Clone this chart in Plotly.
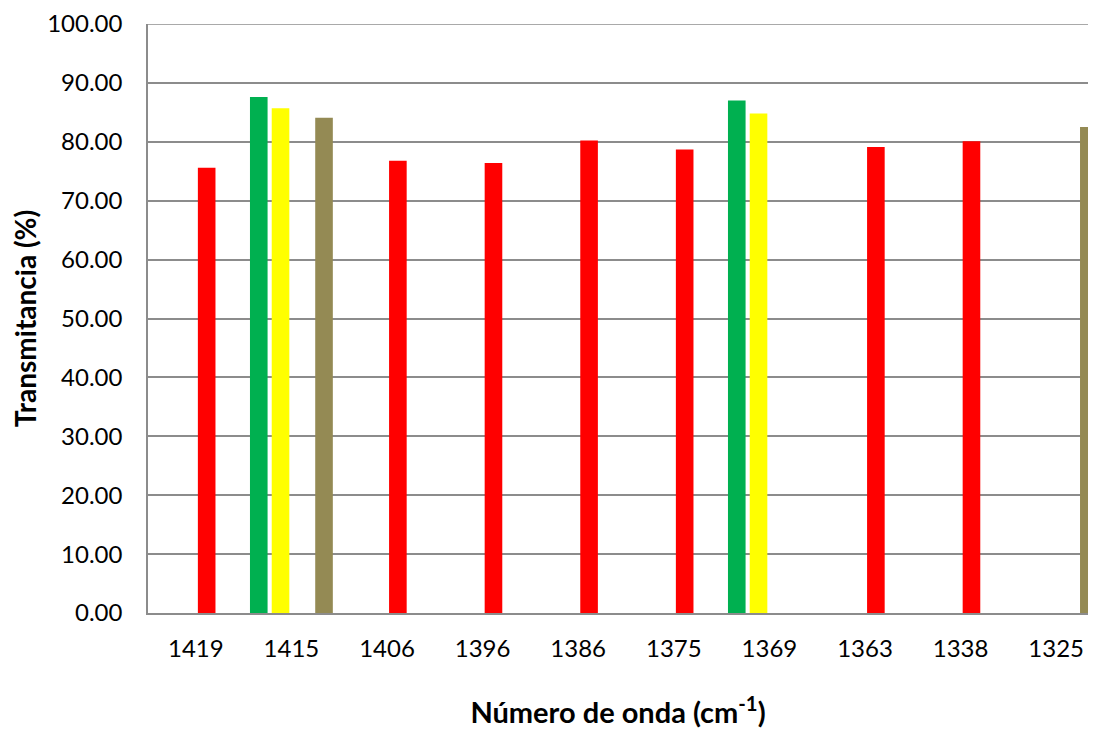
import plotly.graph_objects as go

categories = ["1419", "1415", "1406", "1396", "1386", "1375", "1369", "1363", "1338", "1325"]
green_vals = [None, 87.6, None, None, None, None, 87.0, None, None, None]
yellow_vals = [None, 85.7, None, None, None, None, 84.8, None, None, None]
red_vals = [75.6, None, 76.8, 76.4, 80.2, 78.7, None, 79.1, 80.1, None]
olive_vals = [None, 84.1, None, None, None, None, None, None, None, 82.5]
y_ticks = [0, 10, 20, 30, 40, 50, 60, 70, 80, 90, 100]

series = [
    ("Serie 1", green_vals, "#00B050"),
    ("Serie 2", yellow_vals, "#FFFF00"),
    ("Serie 3", red_vals, "#FF0000"),
    ("Serie 4", olive_vals, "#948A54"),
]

fig = go.Figure()
for name, vals, col in series:
    fig.add_trace(go.Bar(x=categories, y=vals, name=name, marker=dict(color=col, line=dict(width=0))))

FONT = "Lato"
grid = "#8C8C8C"
# page body has an 8px margin: figure is sized so the page fits the window exactly
W, H = 1080, 721
L, T, B = 140, 16, 116
cat_w = 95.6
fig.update_layout(
    width=W, height=H,
    margin=dict(l=L, r=0, t=T, b=B, pad=0),
    paper_bgcolor="white", plot_bgcolor="white",
    barmode="group", bargap=0.09, bargroupgap=0.19,
    showlegend=False,
    font=dict(family=FONT, size=24, color="black"),
    xaxis=dict(
        type="category", categoryorder="array", categoryarray=categories,
        range=[-0.5, -0.5 + (W - L) / cat_w],
        showline=True, linecolor=grid, linewidth=1.5,
        showgrid=False, ticks="", ticklabelstandoff=13,
        tickfont=dict(family=FONT, size=24),
        title=dict(text="<b>Número de onda (cm<sup>-1</sup>)</b>", font=dict(family=FONT, size=29), standoff=47),
    ),
    yaxis=dict(
        range=[0, 100], tickvals=y_ticks, tickformat=".2f",
        showgrid=True, gridcolor=grid, gridwidth=1.5,
        showline=True, linecolor=grid, linewidth=1.5,
        zeroline=False, ticks="", ticklabelstandoff=19,
        tickfont=dict(family=FONT, size=24),
        title=dict(text="<b>Transmitancia (%)</b>", font=dict(family=FONT, size=28), standoff=10),
    ),
)
fig.add_shape(type="line", xref="paper", yref="y", x0=0, x1=1, y0=100, y1=100,
              line=dict(color=grid, width=1.5), layer="below")

fig.write_html("out.html")
